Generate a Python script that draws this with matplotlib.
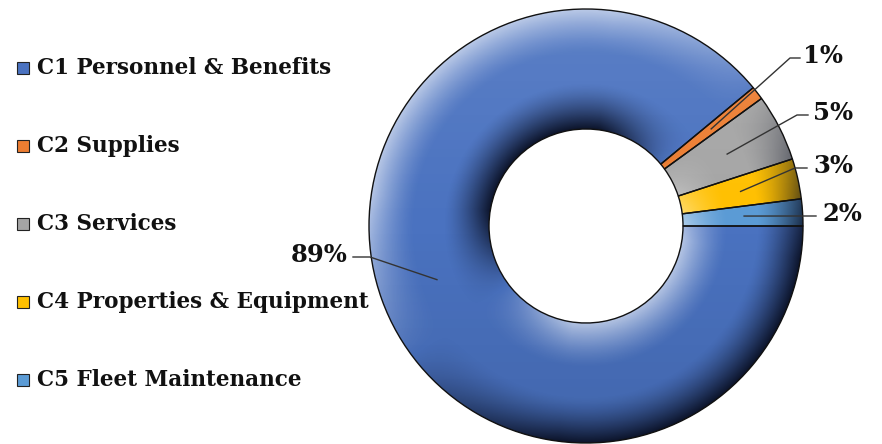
import numpy as np
import matplotlib
matplotlib.use("Agg")
import matplotlib.pyplot as plt
from matplotlib.patches import Wedge, Rectangle

categories = ["C1 Personnel & Benefits", "C2 Supplies", "C3 Services",
              "C4 Properties & Equipment", "C5 Fleet Maintenance"]
values = [89, 1, 5, 3, 2]
pct_labels = ["89%", "1%", "5%", "3%", "2%"]
colors = ["#4A72C0", "#ED7D31", "#A5A5A5", "#FFC000", "#5B9BD5"]

W, H = 882, 444
CX, CY, RPX = 586, 226, 217
RIN = 97 / 217
fig = plt.figure(figsize=(W / 100, H / 100), dpi=100)
ax = fig.add_axes([0, 0, 1, 1])

# draw counter-clockwise from east: C5, C4, C3, C2, C1
order = [4, 3, 2, 1, 0]
wedges, _ = ax.pie([values[i] for i in order], colors=[colors[i] for i in order],
                   startangle=0, counterclock=True, radius=1.0,
                   wedgeprops=dict(width=1 - RIN, edgecolor="none", linewidth=0))

# bevel shading overlay
n = 800
xs = np.linspace(-1, 1, n)
X, Y = np.meshgrid(xs, xs)
R = np.hypot(X, Y) + 1e-9
t = np.clip((R - RIN) / (1 - RIN), 0, 1)
nx, ny = X / R, Y / R
L = np.array([-0.6, 0.8])
dotn = np.clip((nx * L[0] + ny * L[1]) * 1.4, -1, 1)
f_out = np.clip((t - 0.62) / 0.38, 0, 1) ** 1.4
f_in = np.clip((0.38 - t) / 0.38, 0, 1) ** 1.4
s = dotn * f_out - dotn * f_in
# gentle overall top-light gradient
g = 0.10 * Y
shade = np.zeros((n, n, 4))
pos = s > 0
shade[..., 0] = np.where(pos, 1.0, 0.03)
shade[..., 1] = np.where(pos, 1.0, 0.05)
shade[..., 2] = np.where(pos, 1.0, 0.12)
a = np.where(pos, 0.6 * s, 0.92 * (-s))
shade[..., 3] = np.clip(a, 0, 0.92)
ring = Wedge((0, 0), 1.0, 0, 360, width=1 - RIN, transform=ax.transData,
             facecolor="none", edgecolor="none")
ax.add_patch(ring)
im = ax.imshow(shade, extent=[-1, 1, -1, 1], origin="lower", zorder=3,
               interpolation="bilinear")
im.set_clip_path(ring)
grad = np.zeros((n, n, 4))
grad[..., :3] = np.where((g > 0)[..., None], 1.0, 0.0)
grad[..., 3] = np.abs(g)
im2 = ax.imshow(grad, extent=[-1, 1, -1, 1], origin="lower", zorder=2.5,
                interpolation="bilinear")
im2.set_clip_path(ring)
for w in wedges:
    w.set_zorder(2)
    ew = Wedge(w.center, w.r, w.theta1, w.theta2, width=w.width, facecolor="none",
               edgecolor="#111111", linewidth=1.0, zorder=4)
    ax.add_patch(ew)

ax.set_xlim(-CX / RPX, (W - CX) / RPX)
ax.set_ylim(-(H - CY) / RPX, CY / RPX)
ax.set_aspect("auto")
ax.axis("off")

def d(px, py):
    return (px - CX) / RPX, (CY - py) / RPX

# leader lines and labels: (elbow px, line end px, text anchor px, ha)
label_layout = {
    1: ((790, 58), (800, 58), 803, "left"),
    2: ((797, 115), (808, 115), 813, "left"),
    3: ((795, 168), (807, 168), 813, "left"),
    4: ((805, 216), (816, 216), 822, "left"),
    0: ((370, 257), (353, 255), 348, "right"),
}
for k, w in enumerate(wedges):
    i = order[k]
    mid = np.deg2rad((w.theta1 + w.theta2) / 2)
    sx, sy = 0.73 * np.cos(mid), 0.73 * np.sin(mid)
    (ex, ey), (lx, ly), tx, ha = label_layout[i]
    ex, ey = d(ex, ey)
    lx, _ = d(lx, ly)
    ax.plot([sx, ex, lx], [sy, ey, ey], color="#333333", lw=1.0, zorder=5)
    ax.text(d(tx, 0)[0], ey + 0.01, pct_labels[i], ha=ha, va="center", fontsize=17.5,
            fontweight="bold", family="DejaVu Serif", color="#111111", zorder=6)

# legend
rows = [68, 146, 224, 302, 380]
for i, cat in enumerate(categories):
    y = rows[i]
    fig.patches.append(Rectangle((17 / W, 1 - (y + 6) / H), 12 / W, 12 / H,
                                 transform=fig.transFigure, facecolor=colors[i],
                                 edgecolor="#222222", linewidth=0.8))
    fig.text(37 / W, 1 - y / H, cat, ha="left", va="center", fontsize=15.5,
             fontweight="bold", family="DejaVu Serif", color="#111111")

fig.savefig("out.png", dpi=100)
